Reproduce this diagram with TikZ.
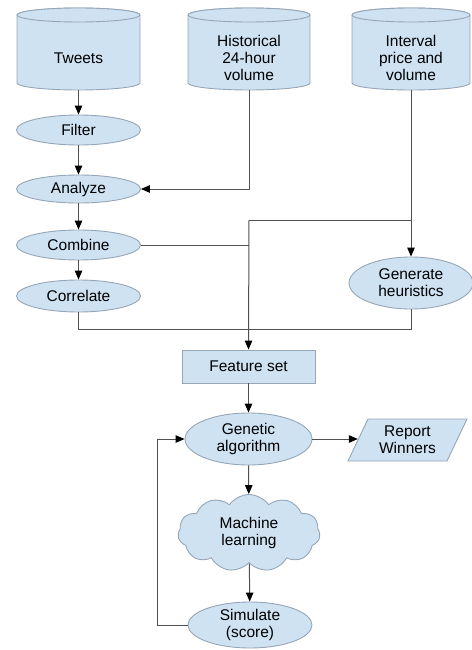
\documentclass[tikz,border=0pt]{standalone}
\usepackage{fontspec}
\setmainfont{Liberation Sans}
\usetikzlibrary{shapes.geometric,shapes.symbols,arrows.meta}
\definecolor{boxfill}{RGB}{206,226,242}
\definecolor{boxline}{RGB}{150,166,182}
\definecolor{wire}{RGB}{80,80,80}

\tikzset{
  shp/.style={draw=boxline, fill=boxfill, line width=0.9pt},
  lbl/.style={align=center, inner sep=0pt, text=black,
              font=\fontsize{15.5}{17}\selectfont},
  oval/.style={shp, lbl, ellipse, inner sep=0pt},
  link/.style={draw=wire, line width=1pt},
  arr/.style={link, -{Triangle[length=9pt,width=7.5pt,color=black]}},
}

% database cylinder: name, left x, right x, text
\newcommand\dbcyl[4]{%
  \draw[shp] (#2,-15) -- (#2,-83)
    arc[start angle=180, end angle=360, x radius={(#3-#2)/2}, y radius=7]
    -- (#3,-15)
    arc[start angle=0, end angle=180, x radius={(#3-#2)/2}, y radius=7] -- cycle;
  \draw[shp] ({(#2+#3)/2},-15) ellipse[x radius={(#3-#2)/2}, y radius=7];
  \node[lbl] (#1) at ({(#2+#3)/2},-58) {#4};
  \coordinate (#1-b) at ({(#2+#3)/2},-90);
}

\begin{document}
\begin{tikzpicture}[x=1pt, y=1pt]
\useasboundingbox (0,0) rectangle (471,-650);

% data sources
\dbcyl{tweets}{17}{140}{Tweets}
\dbcyl{hist}{188}{310}{Historical\\24-hour\\volume}
\dbcyl{intv}{352}{470}{Interval\\price and\\volume}

% processing chain on the left
\node[oval, minimum width=124, minimum height=30] (filter)    at (78.5,-130) {Filter};
\node[oval, minimum width=124, minimum height=28] (analyze)   at (78.5,-189) {Analyze};
\node[oval, minimum width=124, minimum height=30] (combine)   at (78.5,-245) {Combine};
\node[oval, minimum width=124, minimum height=32] (correlate) at (78.5,-296) {Correlate};

\node[oval, minimum width=124, minimum height=52] (gen) at (411,-283) {Generate\\heuristics};

\node[shp, lbl, rectangle, minimum width=133, minimum height=33] (feat) at (248.5,-366.5) {Feature set};

\node[oval, minimum width=127, minimum height=52] (ga) at (248.5,-439) {Genetic\\algorithm};

% output parallelogram
\draw[shp] (348,-461) -- (368,-419) -- (467,-419) -- (447,-461) -- cycle;
\node[lbl, minimum width=99, minimum height=42] (report) at (407.5,-440) {Report\\Winners};

\node[shp, lbl, cloud, cloud puffs=11, cloud puff arc=110, aspect=1.9,
      minimum width=142, minimum height=77] (ml) at (249,-533) {Machine\\learning};

\node[oval, minimum width=124, minimum height=46] (sim) at (250,-625) {Simulate\\(score)};

% junction points
\coordinate (jA) at (249,-220);
\coordinate (jB) at (249,-329);

% connectors
\draw[arr] (tweets-b) -- (filter);
\draw[arr] (filter) -- (analyze);
\draw[arr] (hist-b) |- (analyze.east);
\draw[arr] (analyze) -- (combine);
\draw[arr] (combine) -- (correlate);
\draw[arr] (intv-b) -- (gen);
\draw[link] (intv-b |- jA) -- (jA);
\draw[link] (combine.east) -- (combine.east -| jA);
\draw[link] (correlate.south) |- (jB);
\draw[link] (gen.south) |- (jB);
\draw[arr] (jA) -- (feat.north);
\draw[arr] (feat) -- (ga);
\draw[arr] (ga.east) -- (report.west |- ga.east);
\draw[arr] (ga) -- (ml);
\draw[arr] (ml) -- (sim);
\draw[arr] (sim.west) -- ++(-30,0) |- (ga.west);
\end{tikzpicture}
\end{document}
